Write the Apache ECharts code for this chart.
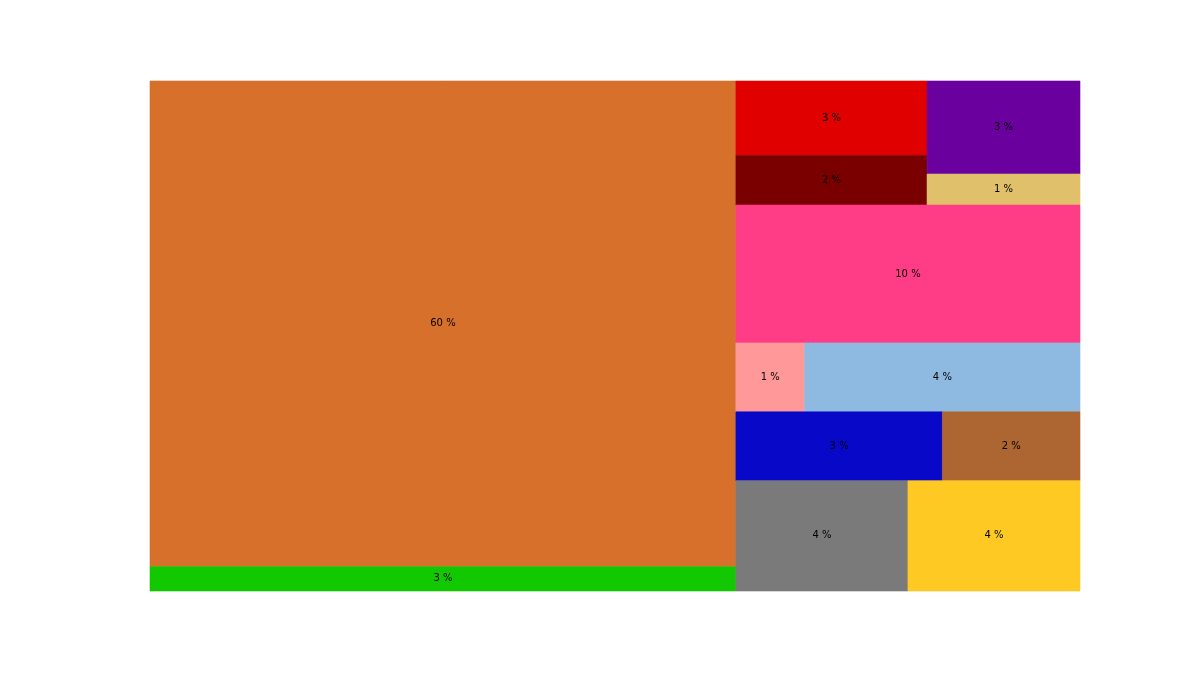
<!DOCTYPE html>
<html>
<head>
<meta charset="utf-8">
<script src="https://cdn.jsdelivr.net/npm/echarts@6/dist/echarts.min.js"></script>
<style>
  html, body { margin: 0; padding: 0; background: #ffffff; }
  #chart { width: 1200px; height: 675px; }
</style>
</head>
<body>
<div id="chart"></div>
<script>
// Cell values (percent share), labels and colours, in drawing order
const values = [60, 3, 3, 2, 3, 1, 10, 1, 4, 3, 2, 4, 4];
const labels = ['60 %', '3 %', '3 %', '2 %', '3 %', '1 %', '10 %', '1 %', '4 %', '3 %', '2 %', '4 %', '4 %'];
const colors = ['#D6702A', '#12C800', '#E00000', '#7A0000', '#6A009E', '#E0C06A',
                '#FF3D87', '#FF9999', '#8EB9E0', '#0808C8', '#AD6531', '#7A7A7A', '#FDC922'];

// Nesting of the cells: 'h' = side by side, 'v' = stacked (indices into values)
const structure = ['h', [
  ['v', [0, 1]],
  ['v', [
    ['h', [['v', [2, 3]], ['v', [4, 5]]]],
    6,
    ['h', [7, 8]],
    ['h', [9, 10]],
    ['h', [11, 12]]
  ]]
]];

function total(node) {
  if (typeof node === 'number') return values[node];
  return node[1].reduce((s, k) => s + total(k), 0);
}

function layout(node, x0, y0, x1, y1, out) {
  if (typeof node === 'number') {
    out.push([x0, y0, x1, y1, node]);
    return;
  }
  const dir = node[0], kids = node[1];
  const sum = total(node);
  let pos = dir === 'h' ? x0 : y0;
  kids.forEach(k => {
    const frac = total(k) / sum;
    if (dir === 'h') {
      const next = pos + (x1 - x0) * frac;
      layout(k, pos, y0, next, y1, out);
      pos = next;
    } else {
      const next = pos + (y1 - y0) * frac;
      layout(k, x0, pos, x1, next, out);
      pos = next;
    }
  });
}

const cells = [];
layout(structure, 0, 0, 1, 1, cells);

const chart = echarts.init(document.getElementById('chart'));
chart.setOption({
  animation: false,
  backgroundColor: '#ffffff',
  grid: { left: 150, right: 120, top: 81, bottom: 84 },
  xAxis: { type: 'value', min: 0, max: 1, show: false },
  yAxis: { type: 'value', min: 0, max: 1, inverse: true, show: false },
  series: [{
    type: 'custom',
    data: cells,
    encode: { x: [0, 2], y: [1, 3] },
    renderItem: function (params, api) {
      const p0 = api.coord([api.value(0), api.value(1)]);
      const p1 = api.coord([api.value(2), api.value(3)]);
      const idx = api.value(4);
      return {
        type: 'rect',
        shape: {
          x: Math.min(p0[0], p1[0]),
          y: Math.min(p0[1], p1[1]),
          width: Math.abs(p1[0] - p0[0]),
          height: Math.abs(p1[1] - p0[1])
        },
        style: { fill: colors[idx], stroke: colors[idx], lineWidth: 0.6 },
        textContent: {
          style: {
            text: labels[idx],
            fill: '#000000',
            font: '10px "DejaVu Sans"'
          }
        },
        textConfig: { position: 'inside' }
      };
    }
  }]
});
</script>
</body>
</html>
